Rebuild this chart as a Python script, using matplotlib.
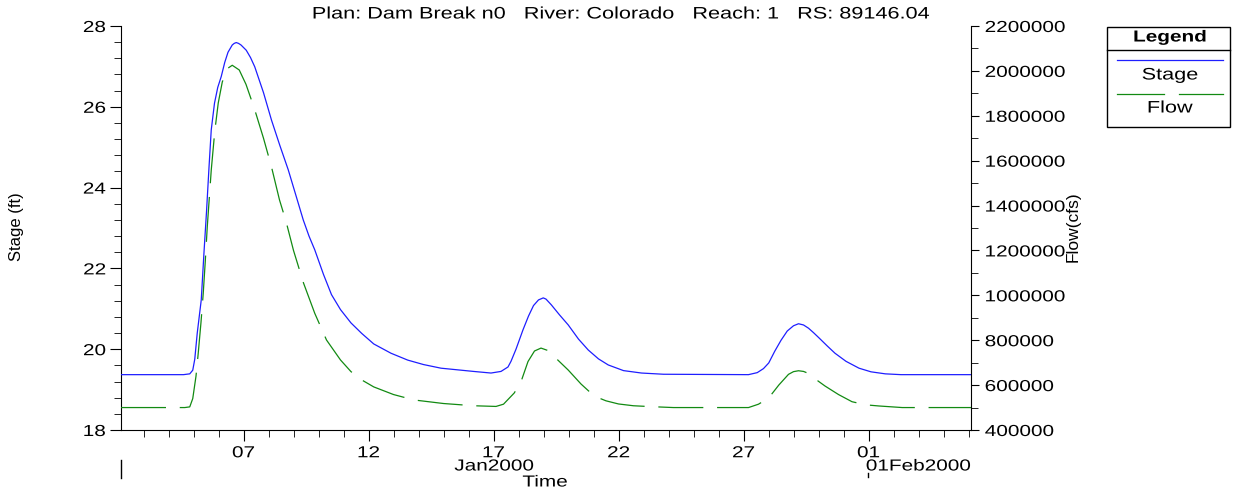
import datetime as dt
import matplotlib
matplotlib.use("Agg")
import matplotlib.pyplot as plt
import matplotlib.dates as mdates
from matplotlib.lines import Line2D
from matplotlib.patches import Rectangle
from matplotlib.patheffects import AbstractPathEffect
from matplotlib.transforms import Affine2D
from matplotlib.ticker import MultipleLocator, FormatStrFormatter

plt.rcParams['font.family'] = ['Liberation Sans', 'DejaVu Sans']

#========================================================================================================
# Data (time as day of January 2000)
#========================================================================================================

stage_days = [2.1, 4.6, 4.85, 4.97, 5.05, 5.15, 5.31, 5.42, 5.52, 5.62, 5.71, 5.84, 5.97, 6.11, 6.25,
              6.38, 6.55, 6.63, 6.71, 6.8, 6.9, 7.11, 7.28, 7.45, 7.8, 8.12, 8.45, 8.79, 9.1, 9.39, 9.62,
              9.85, 10.2, 10.52, 10.88, 11.3, 11.73, 12.21, 12.9, 13.57, 14.2, 14.9, 16.2, 16.9,
              17.3, 17.58, 17.7, 17.9, 18.18, 18.4, 18.6, 18.8, 18.99, 19.1, 19.31, 19.64, 19.99, 20.4,
              20.79, 21.2, 21.59, 22.2, 22.92, 23.8, 27.2, 27.55, 27.8, 28.01, 28.25, 28.5, 28.75, 29.0,
              29.2, 29.4, 29.6, 29.8, 30.02, 30.35, 30.66, 31.1, 31.62, 32.1, 32.67, 33.3, 36.1]
stage_ft = [19.37, 19.37, 19.39, 19.48, 19.75, 20.4, 21.22, 22.4, 23.4, 24.5, 25.43, 26.09, 26.48, 26.75, 27.1,
            27.35, 27.53, 27.57, 27.59, 27.57, 27.53, 27.4, 27.22, 26.99, 26.35, 25.67, 25.05, 24.44, 23.8, 23.2,
            22.8, 22.46, 21.85, 21.35, 20.98, 20.65, 20.39, 20.13, 19.9, 19.73, 19.62, 19.53, 19.45, 19.41,
            19.45, 19.56, 19.7, 20.0, 20.48, 20.82, 21.08, 21.22, 21.27, 21.24, 21.1, 20.85, 20.6, 20.25,
            19.98, 19.76, 19.61, 19.47, 19.41, 19.38, 19.37, 19.42, 19.52, 19.66, 19.95, 20.22, 20.45, 20.58,
            20.63, 20.6, 20.52, 20.41, 20.28, 20.08, 19.9, 19.7, 19.53, 19.44, 19.39, 19.37, 19.37]

flow_days = [2.1, 4.65, 4.85, 4.97, 5.1, 5.19, 5.3, 5.39, 5.47, 5.55, 5.71, 5.85, 5.99, 6.15, 6.35, 6.55,
             6.83, 7.1, 7.43, 7.8, 8.12, 8.44, 8.7, 9.0, 9.4, 9.85, 10.32, 10.88, 11.3, 11.73, 12.21, 13.0,
             13.81, 15.0, 16.22, 17.1, 17.4, 17.83, 18.1, 18.38, 18.64, 18.9, 19.18, 19.43, 19.99,
             20.5, 21.03, 21.5, 22.0, 22.6, 23.32, 24.2, 27.2, 27.6, 28.01, 28.41, 28.8, 29.0, 29.2,
             29.4, 29.6, 29.8, 30.26, 30.8, 31.34, 31.9, 32.42, 33.35, 36.1]
flow_cfs = [500000, 500000, 503000, 540000, 640000, 743000, 880000, 1010000, 1150000, 1304000, 1558000,
            1730000, 1857000, 1950000, 2010000, 2025000, 2004000, 1940000, 1834000, 1700000, 1572000,
            1425000, 1330000, 1200000, 1055000, 920000, 801000, 712000, 660000, 623000, 592000, 558000,
            534000, 518000, 508000, 505000, 515000, 565000, 615000, 705000, 752000, 765000, 754000,
            727000, 667000, 605000, 551000, 530000, 516000, 508000, 504000, 500000, 500000, 515000,
            543000, 600000, 648000, 660000, 664000, 661000, 652000, 633000, 596000, 558000, 526000,
            512000, 507000, 500000, 500000]

x_ticks = [7, 12, 17, 22, 27, 32]
x_tick_labels = ["07", "12", "17", "22", "27", "01"]

title_text = "Plan: Dam Break n0   River: Colorado   Reach: 1   RS: 89146.04"

#========================================================================================================
# Helpers
#========================================================================================================

class Stretch(AbstractPathEffect):
    """Widen text horizontally (the source image is stretched sideways)."""
    def __init__(self, sx=1.3, pivot='center'):
        super().__init__()
        self.sx = sx
        self.pivot = pivot

    def draw_path(self, renderer, gc, tpath, affine, rgbFace=None):
        ext = tpath.get_extents()
        px = {'left': ext.x0, 'center': 0.5 * (ext.x0 + ext.x1), 'right': ext.x1}[self.pivot]
        t = Affine2D().translate(-px, 0).scale(self.sx, 1).translate(px, 0) + affine
        renderer.draw_path(gc, tpath, t, rgbFace)

def to_date(d):
    return dt.datetime(2000, 1, 1) + dt.timedelta(days=d - 1)

SX = 1.3
W, H = 1233, 496

#========================================================================================================
# Create plot
#========================================================================================================

fig = plt.figure(figsize=(W / 100, H / 100), dpi=100)
ax = fig.add_axes([121 / W, 1 - 430 / H, (971 - 121) / W, (430 - 26) / H])
ax2 = ax.twinx()

stage_color = '#1e1eff'
flow_color = '#128a12'

ax.plot([to_date(d) for d in stage_days], stage_ft, color=stage_color, linewidth=0.9, zorder=3)
ax2.plot([to_date(d) for d in flow_days], flow_cfs, color=flow_color, linewidth=0.9,
         dashes=(36, 11))

#Axis limits
ax.set_xlim(to_date(2.1), to_date(36.1))
ax.set_ylim(18, 28)
ax2.set_ylim(400000, 2200000)

#Spines
for a in (ax, ax2):
    a.spines['top'].set_visible(False)
ax.spines['right'].set_visible(False)
ax2.spines['left'].set_visible(False)
ax2.spines['bottom'].set_visible(False)

#Format x-ticks
ax.set_xticks([to_date(d) for d in x_ticks])
ax.set_xticklabels(x_tick_labels)
ax.xaxis.set_minor_locator(mdates.DayLocator())
ax.tick_params(axis='x', which='major', length=8, labelsize=11.5, pad=3)
ax.tick_params(axis='x', which='minor', length=5)

#Format y-ticks
ax.yaxis.set_major_locator(MultipleLocator(2))
ax.yaxis.set_minor_locator(MultipleLocator(0.4))
ax.yaxis.set_major_formatter(FormatStrFormatter('%d'))
ax.tick_params(axis='y', which='major', length=8, labelsize=11.5, pad=3)
ax.tick_params(axis='y', which='minor', length=5)

ax2.yaxis.set_major_locator(MultipleLocator(200000))
ax2.yaxis.set_minor_locator(MultipleLocator(100000))
ax2.yaxis.set_major_formatter(FormatStrFormatter('%d'))
ax2.tick_params(axis='y', which='major', length=6, labelsize=11.5, pad=4)
ax2.tick_params(axis='y', which='minor', length=5)

#Labels
fig.text(621 / W, 1 - 14 / H, title_text, ha='center', va='center', fontsize=12,
         path_effects=[Stretch(SX)])
fig.text(17 / W, 1 - 227 / H, "Stage (ft)", rotation=90, ha='center', va='center', fontsize=12)
fig.text(1073 / W, 1 - 227 / H, "Flow(cfs)", rotation=90, ha='center', va='center', fontsize=12.5)
fig.text(494 / W, 1 - 466 / H, "Jan2000", ha='center', va='center', fontsize=11.5,
         path_effects=[Stretch(SX)])
fig.text(866 / W, 1 - 466 / H, "01Feb2000", ha='left', va='center', fontsize=11.5,
         path_effects=[Stretch(SX, 'left')])
fig.text(545 / W, 1 - 482 / H, "Time", ha='center', va='center', fontsize=11.5,
         path_effects=[Stretch(SX)])
fig.add_artist(Line2D([121 / W, 121 / W], [1 - 460 / H, 1 - 478 / H], color='k', linewidth=1))
fig.add_artist(Line2D([868 / W, 868 / W], [1 - 473 / H, 1 - 477 / H], color='k', linewidth=1))

#Legend box
L, R, T, B = 1107, 1230, 27, 127
fig.add_artist(Rectangle((L / W, 1 - B / H), (R - L) / W, (B - T) / H,
                         fill=False, edgecolor='k', linewidth=1))
fig.add_artist(Line2D([L / W, R / W], [1 - 50 / H, 1 - 50 / H], color='k', linewidth=1))
fig.text(1170 / W, 1 - 37 / H, "Legend", ha='center', va='center', fontsize=11.5, fontweight='bold',
         path_effects=[Stretch(SX)])
fig.add_artist(Line2D([1117 / W, 1223 / W], [1 - 60 / H, 1 - 60 / H], color=stage_color, linewidth=0.9))
fig.text(1170 / W, 1 - 75 / H, "Stage", ha='center', va='center', fontsize=12,
         path_effects=[Stretch(SX)])
fig.add_artist(Line2D([1117 / W, 1164 / W], [1 - 94 / H, 1 - 94 / H], color=flow_color, linewidth=0.9))
fig.add_artist(Line2D([1179 / W, 1223 / W], [1 - 94 / H, 1 - 94 / H], color=flow_color, linewidth=0.9))
fig.text(1170 / W, 1 - 108 / H, "Flow", ha='center', va='center', fontsize=12,
         path_effects=[Stretch(SX)])

#Stretch tick labels like the rest of the text
fig.canvas.draw()
for lbl in ax.get_xticklabels():
    lbl.set_path_effects([Stretch(SX, 'center')])
for lbl in ax.get_yticklabels():
    lbl.set_path_effects([Stretch(SX, 'right')])
for lbl in ax2.get_yticklabels():
    lbl.set_path_effects([Stretch(SX, 'left')])

plt.savefig("out.png", dpi=100)
plt.close()
